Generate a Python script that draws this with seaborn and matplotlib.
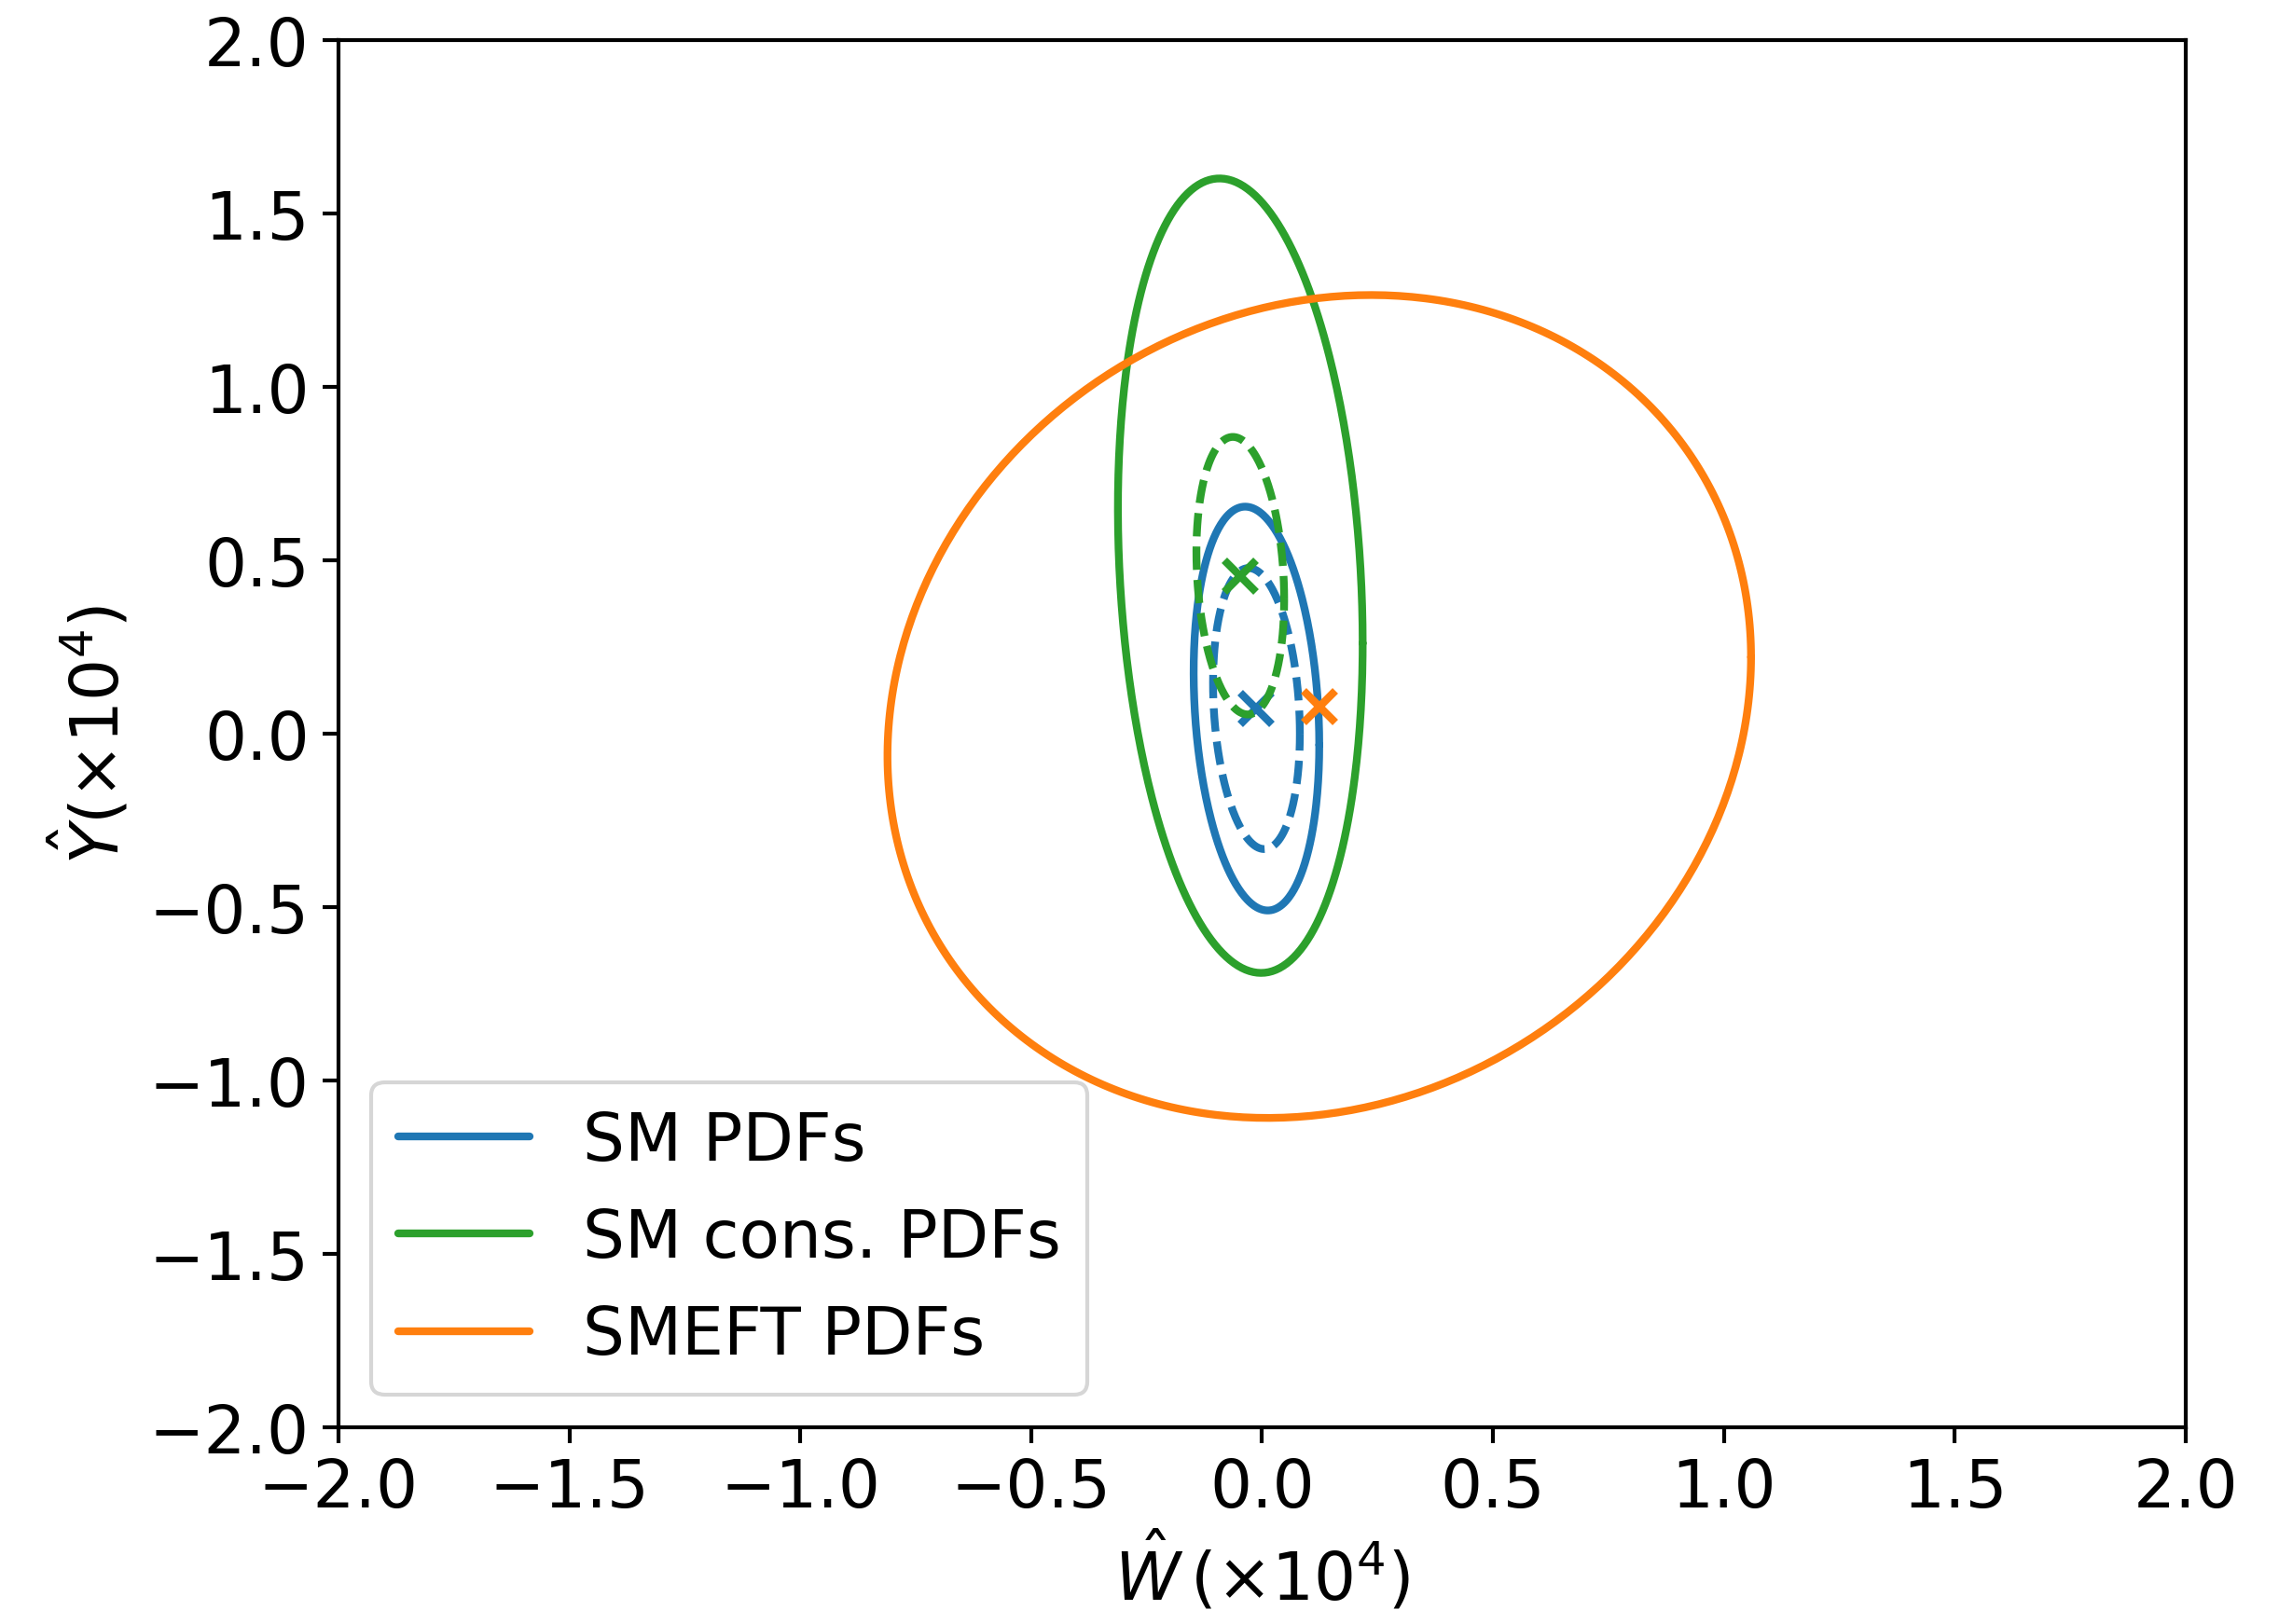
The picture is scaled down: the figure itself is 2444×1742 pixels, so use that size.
import numpy as np
import pandas as pd
import matplotlib
matplotlib.use("Agg")
import matplotlib.pyplot as plt
import seaborn as sns

# fits shown in the plot (units of 1e4)
fit_names = ["SM PDFs", "SM cons. PDFs", "SMEFT PDFs"]
fit_colors = ["#1f77b4", "#2ca02c", "#ff7f0e"]

# best-fit points
center_w = [-0.012, -0.047, 0.124]
center_y = [0.072, 0.455, 0.078]

# outer (solid) contour: half extents along W and Y, and correlation
outer_half_w = [0.136, 0.265, 0.935]
outer_half_y = [0.582, 1.145, 1.186]
corr = [-0.18, -0.17, 0.12]

# inner (dashed) contour, only for the SM fits
inner_half_w = [0.094, 0.095, None]
inner_half_y = [0.405, 0.400, None]

tick_vals = [-2.0, -1.5, -1.0, -0.5, 0.0, 0.5, 1.0, 1.5, 2.0]


def contour_points(cx, cy, hw, hy, rho, n=400):
    t = np.linspace(0, 2 * np.pi, n)
    w = cx + hw * np.cos(t)
    y = cy + hy * (rho * np.cos(t) + np.sqrt(1 - rho ** 2) * np.sin(t))
    return pd.DataFrame({"W": w, "Y": y})


sns.set_style("ticks", rc={"text.color": "black", "axes.labelcolor": "black",
                           "xtick.color": "black", "ytick.color": "black",
                           "axes.edgecolor": "black"})
plt.rcParams["font.family"] = ["DejaVu Sans"]
plt.rcParams["mathtext.fontset"] = "dejavusans"

fig = plt.figure(figsize=(2444 / 300, 1743 / 300), dpi=300)
ax = fig.add_axes([0.1485, 0.121, 0.8105, 0.854])

for i, name in enumerate(fit_names):
    df = contour_points(center_w[i], center_y[i], outer_half_w[i], outer_half_y[i], corr[i])
    sns.lineplot(data=df, x="W", y="Y", sort=False, estimator=None, color=fit_colors[i],
                 lw=2.0, ax=ax, label=name)
    if inner_half_w[i] is not None:
        df_in = contour_points(center_w[i], center_y[i], inner_half_w[i], inner_half_y[i], corr[i])
        sns.lineplot(data=df_in, x="W", y="Y", sort=False, estimator=None, color=fit_colors[i],
                     lw=2.0, dashes=(3.0, 1.3), ax=ax)
    ax.plot(center_w[i], center_y[i], marker="x", color=fit_colors[i], ms=8, mew=2.0, ls="none")

ax.set_xlim(-2, 2)
ax.set_ylim(-2, 2)
ax.set_xticks(tick_vals)
ax.set_yticks(tick_vals)
ax.tick_params(labelsize=17, width=1.0, length=4)
for sp in ax.spines.values():
    sp.set_linewidth(1.0)
ax.set_xlabel(r"$\hat{W}\,(\times10^4)$", fontsize=17, labelpad=2)
ax.set_ylabel(r"$\hat{Y}(\times10^4)$", fontsize=17, labelpad=4)

leg = ax.legend(loc="lower left", fontsize=17, handlelength=2.0, handletextpad=0.8,
                labelspacing=0.5, borderaxespad=0.5)
leg.get_frame().set_edgecolor("#cccccc")

fig.savefig("out.png", dpi=300)
